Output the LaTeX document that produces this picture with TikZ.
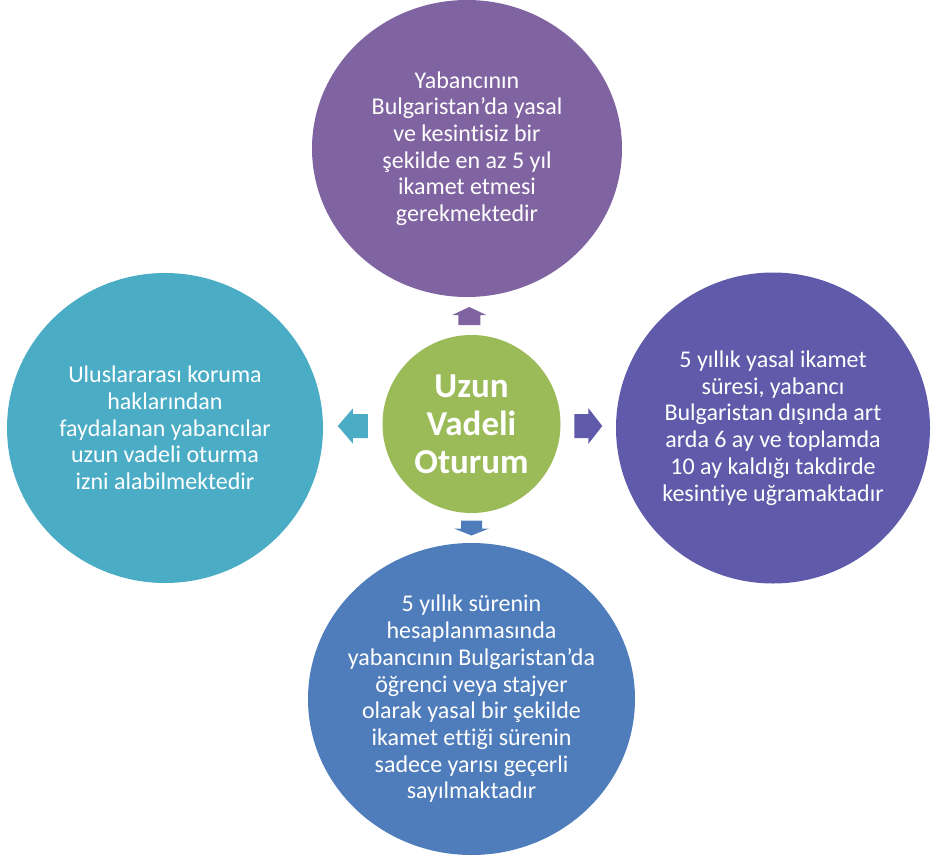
\documentclass[tikz,border=0pt]{standalone}
\usepackage{fontspec}
\setmainfont[Ligatures=NoCommon]{Carlito}
\usepackage{tikz}
\usetikzlibrary{shapes.geometric,positioning,calc}
\definecolor{morUst}{RGB}{128,100,162}
\definecolor{morSag}{RGB}{95,91,170}
\definecolor{maviAlt}{RGB}{79,125,187}
\definecolor{turkuaz}{RGB}{75,172,198}
\definecolor{yesil}{RGB}{155,187,89}
\tikzset{
	balon/.style={ellipse,inner sep=0pt},
	yazi/.style={text=white,align=center,font=\fontsize{24}{26.7}\selectfont}
}
% renk, konum, aci, boy, bas, govde, uc
\newcommand{\blokok}[7]{%
	\begin{scope}[shift={#2},rotate=#3]
		\fill[#1] (-#4/2,-#6/2) -- (#4/2-#7,-#6/2) -- (#4/2-#7,-#5/2) -- (#4/2,0)
			-- (#4/2-#7,#5/2) -- (#4/2-#7,#6/2) -- (-#4/2,#6/2) -- cycle;
	\end{scope}}

\begin{document}
\begin{tikzpicture}[x=1pt,y=-1pt]
	
	\useasboundingbox (0,0) rectangle (931,856);
	\clip (0,0) rectangle (931,856);
	
	%Merkez
	\node[balon,fill=yesil,minimum width=178pt,minimum height=178pt,
		label={[yazi,font=\fontsize{35}{38}\selectfont\bfseries]center:{Uzun\\Vadeli\\Oturum}}] (merkez) at (471.5,424) {};
	
	%Daireler
	\node[balon,fill=morUst,minimum width=310pt,minimum height=297pt,
		label={[yazi]center:{Yabancının\\Bulgaristan’da yasal\\ve kesintisiz bir\\şekilde en az 5 yıl\\ikamet etmesi\\gerekmektedir}}] (ust) at (467,148.5) {};
	\node[balon,fill=morSag,minimum width=314pt,minimum height=311pt,
		label={[yazi]center:{5 yıllık yasal ikamet\\süresi, yabancı\\Bulgaristan dışında art\\arda 6 ay ve toplamda\\10 ay kaldığı takdirde\\kesintiye uğramaktadır}}] (sag) at (773,428) {};
	\node[balon,fill=maviAlt,minimum width=327pt,minimum height=312pt,
		label={[yazi]center:{5 yıllık sürenin\\hesaplanmasında\\yabancının Bulgaristan’da\\öğrenci veya stajyer\\olarak yasal bir şekilde\\ikamet ettiği sürenin\\sadece yarısı geçerli\\sayılmaktadır}}] (alt) at (471.5,699) {};
	\node[balon,fill=turkuaz,minimum width=316pt,minimum height=310pt,
		label={[yazi]center:{Uluslararası koruma\\haklarından\\faydalanan yabancılar\\uzun vadeli oturma\\izni alabilmektedir}}] (sol) at (165,428) {};
	
	%Oklar
	\blokok{morUst}{($(merkez.north)!0.5!(ust.south)$)}{90}{18}{34}{22}{8}
	\blokok{morSag}{($(merkez.east)!0.5!(sag.west)$)}{0}{28}{36}{24}{14}
	\blokok{maviAlt}{($(merkez.south)!0.5!(alt.north)$)}{270}{15}{35}{21}{7}
	\blokok{turkuaz}{($(merkez.west)!0.5!(sol.east)$)}{180}{30}{35}{24}{15}
	
\end{tikzpicture}
\end{document}
